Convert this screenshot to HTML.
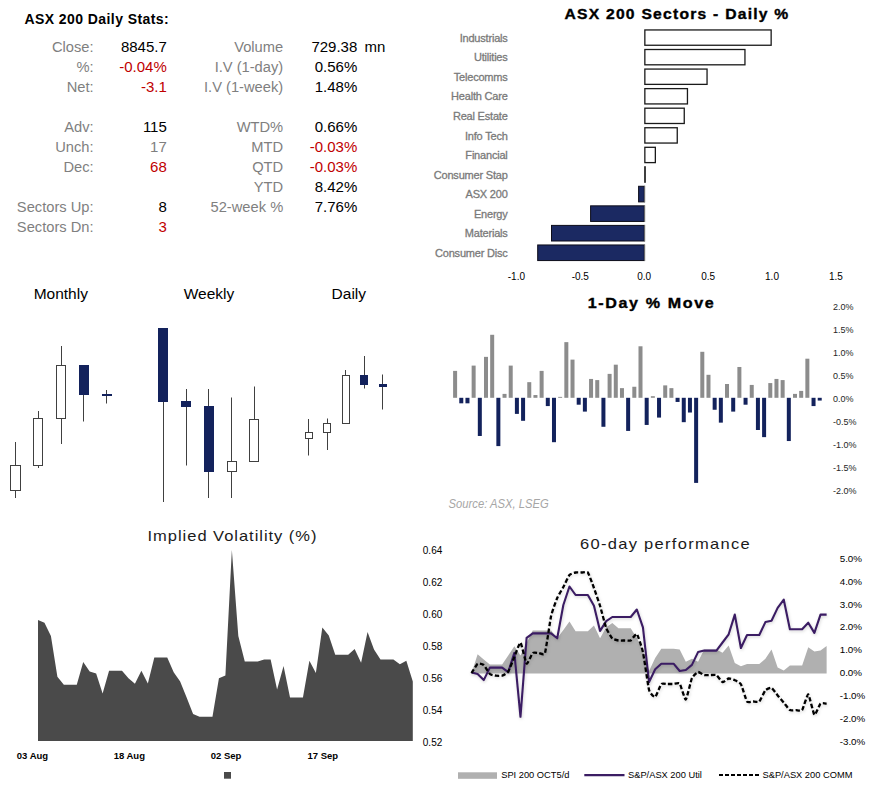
<!DOCTYPE html>
<html><head><meta charset="utf-8"><style>
html,body{margin:0;padding:0;background:#fff;width:880px;height:786px;overflow:hidden;}
svg{display:block;font-family:"Liberation Sans",sans-serif;}
</style></head><body>
<svg width="880" height="786" viewBox="0 0 880 786">
<defs><filter id="sh" x="-10%" y="-10%" width="120%" height="120%"><feDropShadow dx="0.6" dy="1.2" stdDeviation="1.6" flood-color="#000" flood-opacity="0.18"/></filter></defs>
<text x="24.5" y="24" font-size="14" fill="#000" text-anchor="start" font-weight="bold" font-style="normal" letter-spacing="0.42" font-family="Liberation Sans">ASX 200 Daily Stats:</text>
<text x="93.6" y="52" font-size="14.7" fill="#7f7f7f" text-anchor="end" font-weight="normal" font-style="normal" letter-spacing="0" font-family="Liberation Sans">Close:</text>
<text x="166.8" y="52" font-size="15" fill="#000" text-anchor="end" font-weight="normal" font-style="normal" letter-spacing="0" font-family="Liberation Sans">8845.7</text>
<text x="283.2" y="52" font-size="14.7" fill="#7f7f7f" text-anchor="end" font-weight="normal" font-style="normal" letter-spacing="0" font-family="Liberation Sans">Volume</text>
<text x="357.3" y="52" font-size="15" fill="#000" text-anchor="end" font-weight="normal" font-style="normal" letter-spacing="0" font-family="Liberation Sans">729.38</text>
<text x="93.6" y="72" font-size="14.7" fill="#7f7f7f" text-anchor="end" font-weight="normal" font-style="normal" letter-spacing="0" font-family="Liberation Sans">%:</text>
<text x="166.8" y="72" font-size="15" fill="#c00000" text-anchor="end" font-weight="normal" font-style="normal" letter-spacing="0" font-family="Liberation Sans">-0.04%</text>
<text x="283.2" y="72" font-size="14.7" fill="#7f7f7f" text-anchor="end" font-weight="normal" font-style="normal" letter-spacing="0" font-family="Liberation Sans">I.V (1-day)</text>
<text x="357.3" y="72" font-size="15" fill="#000" text-anchor="end" font-weight="normal" font-style="normal" letter-spacing="0" font-family="Liberation Sans">0.56%</text>
<text x="93.6" y="92" font-size="14.7" fill="#7f7f7f" text-anchor="end" font-weight="normal" font-style="normal" letter-spacing="0" font-family="Liberation Sans">Net:</text>
<text x="166.8" y="92" font-size="15" fill="#c00000" text-anchor="end" font-weight="normal" font-style="normal" letter-spacing="0" font-family="Liberation Sans">-3.1</text>
<text x="283.2" y="92" font-size="14.7" fill="#7f7f7f" text-anchor="end" font-weight="normal" font-style="normal" letter-spacing="0" font-family="Liberation Sans">I.V (1-week)</text>
<text x="357.3" y="92" font-size="15" fill="#000" text-anchor="end" font-weight="normal" font-style="normal" letter-spacing="0" font-family="Liberation Sans">1.48%</text>
<text x="93.6" y="132" font-size="14.7" fill="#7f7f7f" text-anchor="end" font-weight="normal" font-style="normal" letter-spacing="0" font-family="Liberation Sans">Adv:</text>
<text x="166.8" y="132" font-size="15" fill="#000" text-anchor="end" font-weight="normal" font-style="normal" letter-spacing="0" font-family="Liberation Sans">115</text>
<text x="283.2" y="132" font-size="14.7" fill="#7f7f7f" text-anchor="end" font-weight="normal" font-style="normal" letter-spacing="0" font-family="Liberation Sans">WTD%</text>
<text x="357.3" y="132" font-size="15" fill="#000" text-anchor="end" font-weight="normal" font-style="normal" letter-spacing="0" font-family="Liberation Sans">0.66%</text>
<text x="93.6" y="152" font-size="14.7" fill="#7f7f7f" text-anchor="end" font-weight="normal" font-style="normal" letter-spacing="0" font-family="Liberation Sans">Unch:</text>
<text x="166.8" y="152" font-size="15" fill="#7f7f7f" text-anchor="end" font-weight="normal" font-style="normal" letter-spacing="0" font-family="Liberation Sans">17</text>
<text x="283.2" y="152" font-size="14.7" fill="#7f7f7f" text-anchor="end" font-weight="normal" font-style="normal" letter-spacing="0" font-family="Liberation Sans">MTD</text>
<text x="357.3" y="152" font-size="15" fill="#c00000" text-anchor="end" font-weight="normal" font-style="normal" letter-spacing="0" font-family="Liberation Sans">-0.03%</text>
<text x="93.6" y="172" font-size="14.7" fill="#7f7f7f" text-anchor="end" font-weight="normal" font-style="normal" letter-spacing="0" font-family="Liberation Sans">Dec:</text>
<text x="166.8" y="172" font-size="15" fill="#c00000" text-anchor="end" font-weight="normal" font-style="normal" letter-spacing="0" font-family="Liberation Sans">68</text>
<text x="283.2" y="172" font-size="14.7" fill="#7f7f7f" text-anchor="end" font-weight="normal" font-style="normal" letter-spacing="0" font-family="Liberation Sans">QTD</text>
<text x="357.3" y="172" font-size="15" fill="#c00000" text-anchor="end" font-weight="normal" font-style="normal" letter-spacing="0" font-family="Liberation Sans">-0.03%</text>
<text x="283.2" y="192" font-size="14.7" fill="#7f7f7f" text-anchor="end" font-weight="normal" font-style="normal" letter-spacing="0" font-family="Liberation Sans">YTD</text>
<text x="357.3" y="192" font-size="15" fill="#000" text-anchor="end" font-weight="normal" font-style="normal" letter-spacing="0" font-family="Liberation Sans">8.42%</text>
<text x="93.6" y="212" font-size="14.7" fill="#7f7f7f" text-anchor="end" font-weight="normal" font-style="normal" letter-spacing="0" font-family="Liberation Sans">Sectors Up:</text>
<text x="166.8" y="212" font-size="15" fill="#000" text-anchor="end" font-weight="normal" font-style="normal" letter-spacing="0" font-family="Liberation Sans">8</text>
<text x="283.2" y="212" font-size="14.7" fill="#7f7f7f" text-anchor="end" font-weight="normal" font-style="normal" letter-spacing="0" font-family="Liberation Sans">52-week %</text>
<text x="357.3" y="212" font-size="15" fill="#000" text-anchor="end" font-weight="normal" font-style="normal" letter-spacing="0" font-family="Liberation Sans">7.76%</text>
<text x="93.6" y="232" font-size="14.7" fill="#7f7f7f" text-anchor="end" font-weight="normal" font-style="normal" letter-spacing="0" font-family="Liberation Sans">Sectors Dn:</text>
<text x="166.8" y="232" font-size="15" fill="#c00000" text-anchor="end" font-weight="normal" font-style="normal" letter-spacing="0" font-family="Liberation Sans">3</text>
<text x="364.5" y="52" font-size="15" fill="#000" text-anchor="start" font-weight="normal" font-style="normal" letter-spacing="0" font-family="Liberation Sans">mn</text>
<text transform="translate(677,18.8) scale(1.12,1)" x="0" y="0" font-size="14" fill="#000" text-anchor="middle" font-weight="bold" letter-spacing="1.1" stroke="#000" stroke-width="0.35">ASX 200 Sectors - Daily %</text>
<text stroke="#7a7a7a" stroke-width="0.3" x="507.6" y="41.8" font-size="11" fill="#7a7a7a" text-anchor="end" font-weight="normal" font-style="normal" letter-spacing="-0.2" font-family="Liberation Sans">Industrials</text>
<rect x="644.85" y="29.95" width="126.29999999999991" height="15.3" fill="#fff" stroke="#1a1a1a" stroke-width="1.3"/>
<text stroke="#7a7a7a" stroke-width="0.3" x="507.6" y="61.36" font-size="11" fill="#7a7a7a" text-anchor="end" font-weight="normal" font-style="normal" letter-spacing="-0.2" font-family="Liberation Sans">Utilities</text>
<rect x="644.85" y="49.51" width="100.09999999999998" height="15.3" fill="#fff" stroke="#1a1a1a" stroke-width="1.3"/>
<text stroke="#7a7a7a" stroke-width="0.3" x="507.6" y="80.92" font-size="11" fill="#7a7a7a" text-anchor="end" font-weight="normal" font-style="normal" letter-spacing="-0.2" font-family="Liberation Sans">Telecomms</text>
<rect x="644.85" y="69.07000000000001" width="62.2" height="15.3" fill="#fff" stroke="#1a1a1a" stroke-width="1.3"/>
<text stroke="#7a7a7a" stroke-width="0.3" x="507.6" y="100.47999999999999" font-size="11" fill="#7a7a7a" text-anchor="end" font-weight="normal" font-style="normal" letter-spacing="-0.2" font-family="Liberation Sans">Health Care</text>
<rect x="644.85" y="88.63" width="42.59999999999998" height="15.3" fill="#fff" stroke="#1a1a1a" stroke-width="1.3"/>
<text stroke="#7a7a7a" stroke-width="0.3" x="507.6" y="120.03999999999999" font-size="11" fill="#7a7a7a" text-anchor="end" font-weight="normal" font-style="normal" letter-spacing="-0.2" font-family="Liberation Sans">Real Estate</text>
<rect x="644.85" y="108.19" width="39.399999999999935" height="15.3" fill="#fff" stroke="#1a1a1a" stroke-width="1.3"/>
<text stroke="#7a7a7a" stroke-width="0.3" x="507.6" y="139.6" font-size="11" fill="#7a7a7a" text-anchor="end" font-weight="normal" font-style="normal" letter-spacing="-0.2" font-family="Liberation Sans">Info Tech</text>
<rect x="644.85" y="127.75" width="32.399999999999935" height="15.3" fill="#fff" stroke="#1a1a1a" stroke-width="1.3"/>
<text stroke="#7a7a7a" stroke-width="0.3" x="507.6" y="159.16" font-size="11" fill="#7a7a7a" text-anchor="end" font-weight="normal" font-style="normal" letter-spacing="-0.2" font-family="Liberation Sans">Financial</text>
<rect x="644.85" y="147.31" width="10.499999999999954" height="15.3" fill="#fff" stroke="#1a1a1a" stroke-width="1.3"/>
<text stroke="#7a7a7a" stroke-width="0.3" x="507.6" y="178.72" font-size="11" fill="#7a7a7a" text-anchor="end" font-weight="normal" font-style="normal" letter-spacing="-0.2" font-family="Liberation Sans">Consumer Stap</text>
<rect x="644.2" y="166.22" width="1.6" height="16.6" fill="#111"/>
<text stroke="#7a7a7a" stroke-width="0.3" x="507.6" y="198.28" font-size="11" fill="#7a7a7a" text-anchor="end" font-weight="normal" font-style="normal" letter-spacing="-0.2" font-family="Liberation Sans">ASX 200</text>
<rect x="638.6" y="186.28" width="5.7000000000000455" height="15.600000000000001" fill="#1b2962" stroke="#0d0d1a" stroke-width="1"/>
<rect x="644.2" y="185.78" width="1" height="16.6" fill="#777"/>
<text stroke="#7a7a7a" stroke-width="0.3" x="507.6" y="217.84" font-size="11" fill="#7a7a7a" text-anchor="end" font-weight="normal" font-style="normal" letter-spacing="-0.2" font-family="Liberation Sans">Energy</text>
<rect x="590.6" y="205.84" width="53.700000000000045" height="15.600000000000001" fill="#1b2962" stroke="#0d0d1a" stroke-width="1"/>
<rect x="644.2" y="205.34" width="1" height="16.6" fill="#777"/>
<text stroke="#7a7a7a" stroke-width="0.3" x="507.6" y="237.4" font-size="11" fill="#7a7a7a" text-anchor="end" font-weight="normal" font-style="normal" letter-spacing="-0.2" font-family="Liberation Sans">Materials</text>
<rect x="551.5" y="225.4" width="92.80000000000007" height="15.600000000000001" fill="#1b2962" stroke="#0d0d1a" stroke-width="1"/>
<rect x="644.2" y="224.9" width="1" height="16.6" fill="#777"/>
<text stroke="#7a7a7a" stroke-width="0.3" x="507.6" y="256.96000000000004" font-size="11" fill="#7a7a7a" text-anchor="end" font-weight="normal" font-style="normal" letter-spacing="-0.2" font-family="Liberation Sans">Consumer Disc</text>
<rect x="537.7" y="244.96" width="106.60000000000002" height="15.600000000000001" fill="#1b2962" stroke="#0d0d1a" stroke-width="1"/>
<rect x="644.2" y="244.46" width="1" height="16.6" fill="#777"/>
<text x="516.4000000000001" y="279.5" font-size="10" fill="#000" text-anchor="middle" font-weight="normal" font-style="normal" letter-spacing="0" font-family="Liberation Sans">-1.0</text>
<text x="580.3000000000001" y="279.5" font-size="10" fill="#000" text-anchor="middle" font-weight="normal" font-style="normal" letter-spacing="0" font-family="Liberation Sans">-0.5</text>
<text x="644.2" y="279.5" font-size="10" fill="#000" text-anchor="middle" font-weight="normal" font-style="normal" letter-spacing="0" font-family="Liberation Sans">0.0</text>
<text x="708.1" y="279.5" font-size="10" fill="#000" text-anchor="middle" font-weight="normal" font-style="normal" letter-spacing="0" font-family="Liberation Sans">0.5</text>
<text x="772.0" y="279.5" font-size="10" fill="#000" text-anchor="middle" font-weight="normal" font-style="normal" letter-spacing="0" font-family="Liberation Sans">1.0</text>
<text x="835.9000000000001" y="279.5" font-size="10" fill="#000" text-anchor="middle" font-weight="normal" font-style="normal" letter-spacing="0" font-family="Liberation Sans">1.5</text>
<text x="60.8" y="299.4" font-size="15.5" fill="#000" text-anchor="middle" font-weight="normal" font-style="normal" letter-spacing="0" font-family="Liberation Sans">Monthly</text>
<text x="209" y="299.4" font-size="15.5" fill="#000" text-anchor="middle" font-weight="normal" font-style="normal" letter-spacing="0" font-family="Liberation Sans">Weekly</text>
<text x="348.8" y="299.4" font-size="15.5" fill="#000" text-anchor="middle" font-weight="normal" font-style="normal" letter-spacing="0" font-family="Liberation Sans">Daily</text>
<rect x="15" y="442" width="1" height="56" fill="#404040"/>
<rect x="10.5" y="465.5" width="10" height="25" fill="#fff" stroke="#404040" stroke-width="1"/>
<rect x="38" y="411" width="1" height="57" fill="#404040"/>
<rect x="33.5" y="418.5" width="9" height="47" fill="#fff" stroke="#404040" stroke-width="1"/>
<rect x="61" y="346" width="1" height="98" fill="#404040"/>
<rect x="56.5" y="365.5" width="9" height="53" fill="#fff" stroke="#404040" stroke-width="1"/>
<rect x="83" y="390" width="1" height="31.5" fill="#404040"/>
<rect x="79" y="365" width="10" height="30" fill="#13225c"/>
<rect x="106" y="390" width="1" height="13.5" fill="#404040"/>
<rect x="102" y="394" width="10" height="2" fill="#13225c"/>
<rect x="163" y="400" width="1" height="102" fill="#404040"/>
<rect x="158" y="328" width="10" height="74" fill="#13225c"/>
<rect x="186" y="389" width="1" height="76.5" fill="#404040"/>
<rect x="181" y="401" width="10" height="6" fill="#13225c"/>
<rect x="208" y="389" width="1" height="109" fill="#404040"/>
<rect x="204" y="406" width="10" height="66" fill="#13225c"/>
<rect x="231" y="397.5" width="1" height="100.5" fill="#404040"/>
<rect x="227.5" y="461.5" width="9" height="10" fill="#fff" stroke="#404040" stroke-width="1"/>
<rect x="254" y="386.5" width="1" height="33.5" fill="#404040"/>
<rect x="249.5" y="419.5" width="9" height="42" fill="#fff" stroke="#404040" stroke-width="1"/>
<rect x="308" y="419" width="1" height="36.5" fill="#404040"/>
<rect x="305.5" y="432.5" width="7" height="6" fill="#fff" stroke="#404040" stroke-width="1"/>
<rect x="327" y="418.5" width="1" height="31.5" fill="#404040"/>
<rect x="323.5" y="423.5" width="7" height="9" fill="#fff" stroke="#404040" stroke-width="1"/>
<rect x="345" y="370" width="1" height="6" fill="#404040"/>
<rect x="342.5" y="375.5" width="7" height="48" fill="#fff" stroke="#404040" stroke-width="1"/>
<rect x="364" y="356" width="1" height="32.5" fill="#404040"/>
<rect x="360" y="375" width="8" height="10" fill="#13225c"/>
<rect x="382" y="374.5" width="1" height="35.0" fill="#404040"/>
<rect x="379" y="384" width="8" height="3" fill="#13225c"/>
<text transform="translate(651.5,308) scale(1.15,1)" x="0" y="0" font-size="14" fill="#000" text-anchor="middle" font-weight="bold" letter-spacing="1.4" stroke="#000" stroke-width="0.35">1-Day % Move</text>
<rect x="453.10" y="370.89" width="4" height="26.91" fill="#8c8c8c"/>
<rect x="459.28" y="397.80" width="4" height="5.52" fill="#13225c"/>
<rect x="465.46" y="397.80" width="4" height="5.52" fill="#13225c"/>
<rect x="471.64" y="365.60" width="4" height="32.20" fill="#8c8c8c"/>
<rect x="477.82" y="397.80" width="4" height="38.18" fill="#13225c"/>
<rect x="484.00" y="356.86" width="4" height="40.94" fill="#8c8c8c"/>
<rect x="490.18" y="334.78" width="4" height="63.02" fill="#8c8c8c"/>
<rect x="496.36" y="397.80" width="4" height="48.30" fill="#13225c"/>
<rect x="502.54" y="393.89" width="4" height="3.91" fill="#8c8c8c"/>
<rect x="508.72" y="365.60" width="4" height="32.20" fill="#8c8c8c"/>
<rect x="514.90" y="397.80" width="4" height="16.10" fill="#13225c"/>
<rect x="521.08" y="397.80" width="4" height="23.00" fill="#13225c"/>
<rect x="527.26" y="382.16" width="4" height="15.64" fill="#8c8c8c"/>
<rect x="533.44" y="395.04" width="4" height="2.76" fill="#8c8c8c"/>
<rect x="539.62" y="370.89" width="4" height="26.91" fill="#8c8c8c"/>
<rect x="545.80" y="397.80" width="4" height="8.28" fill="#13225c"/>
<rect x="551.98" y="397.80" width="4" height="44.39" fill="#13225c"/>
<rect x="558.16" y="396.88" width="4" height="0.92" fill="#8c8c8c"/>
<rect x="564.34" y="342.14" width="4" height="55.66" fill="#8c8c8c"/>
<rect x="570.52" y="359.62" width="4" height="38.18" fill="#8c8c8c"/>
<rect x="576.70" y="397.80" width="4" height="6.90" fill="#13225c"/>
<rect x="582.88" y="397.80" width="4" height="13.80" fill="#13225c"/>
<rect x="589.06" y="378.94" width="4" height="18.86" fill="#8c8c8c"/>
<rect x="595.24" y="380.09" width="4" height="17.71" fill="#8c8c8c"/>
<rect x="601.42" y="397.80" width="4" height="28.98" fill="#13225c"/>
<rect x="607.60" y="373.88" width="4" height="23.92" fill="#8c8c8c"/>
<rect x="613.78" y="364.68" width="4" height="33.12" fill="#8c8c8c"/>
<rect x="619.96" y="388.14" width="4" height="9.66" fill="#8c8c8c"/>
<rect x="626.14" y="397.80" width="4" height="33.12" fill="#13225c"/>
<rect x="632.32" y="386.76" width="4" height="11.04" fill="#8c8c8c"/>
<rect x="638.50" y="346.28" width="4" height="51.52" fill="#8c8c8c"/>
<rect x="644.68" y="397.80" width="4" height="27.14" fill="#13225c"/>
<rect x="650.86" y="396.19" width="4" height="1.61" fill="#8c8c8c"/>
<rect x="657.04" y="397.80" width="4" height="19.78" fill="#13225c"/>
<rect x="663.22" y="385.38" width="4" height="12.42" fill="#8c8c8c"/>
<rect x="669.40" y="388.14" width="4" height="9.66" fill="#8c8c8c"/>
<rect x="675.58" y="397.80" width="4" height="4.14" fill="#13225c"/>
<rect x="681.76" y="397.80" width="4" height="24.38" fill="#13225c"/>
<rect x="687.94" y="397.80" width="4" height="14.72" fill="#13225c"/>
<rect x="694.12" y="397.80" width="4" height="85.10" fill="#13225c"/>
<rect x="700.30" y="351.80" width="4" height="46.00" fill="#8c8c8c"/>
<rect x="706.48" y="374.80" width="4" height="23.00" fill="#8c8c8c"/>
<rect x="712.66" y="397.80" width="4" height="11.96" fill="#13225c"/>
<rect x="718.84" y="397.80" width="4" height="24.84" fill="#13225c"/>
<rect x="725.02" y="384.00" width="4" height="13.80" fill="#8c8c8c"/>
<rect x="731.20" y="397.80" width="4" height="13.80" fill="#13225c"/>
<rect x="737.38" y="366.98" width="4" height="30.82" fill="#8c8c8c"/>
<rect x="743.56" y="397.80" width="4" height="6.90" fill="#13225c"/>
<rect x="749.74" y="384.92" width="4" height="12.88" fill="#8c8c8c"/>
<rect x="755.92" y="397.80" width="4" height="32.20" fill="#13225c"/>
<rect x="762.10" y="397.80" width="4" height="39.33" fill="#13225c"/>
<rect x="768.28" y="383.08" width="4" height="14.72" fill="#8c8c8c"/>
<rect x="774.46" y="378.94" width="4" height="18.86" fill="#8c8c8c"/>
<rect x="780.64" y="380.09" width="4" height="17.71" fill="#8c8c8c"/>
<rect x="786.82" y="397.80" width="4" height="43.24" fill="#13225c"/>
<rect x="793.00" y="393.89" width="4" height="3.91" fill="#8c8c8c"/>
<rect x="799.18" y="390.90" width="4" height="6.90" fill="#8c8c8c"/>
<rect x="805.36" y="358.70" width="4" height="39.10" fill="#8c8c8c"/>
<rect x="811.54" y="397.80" width="4" height="8.28" fill="#13225c"/>
<rect x="817.72" y="397.80" width="4" height="2.76" fill="#13225c"/>
<text transform="translate(833,309.6) scale(0.92,1)" x="0" y="0" font-size="9.8" fill="#262626" text-anchor="start" font-weight="normal" letter-spacing="0" >2.0%</text>
<text transform="translate(833,332.65000000000003) scale(0.92,1)" x="0" y="0" font-size="9.8" fill="#262626" text-anchor="start" font-weight="normal" letter-spacing="0" >1.5%</text>
<text transform="translate(833,355.70000000000005) scale(0.92,1)" x="0" y="0" font-size="9.8" fill="#262626" text-anchor="start" font-weight="normal" letter-spacing="0" >1.0%</text>
<text transform="translate(833,378.75) scale(0.92,1)" x="0" y="0" font-size="9.8" fill="#262626" text-anchor="start" font-weight="normal" letter-spacing="0" >0.5%</text>
<text transform="translate(833,401.8) scale(0.92,1)" x="0" y="0" font-size="9.8" fill="#262626" text-anchor="start" font-weight="normal" letter-spacing="0" >0.0%</text>
<text transform="translate(833,424.85) scale(0.92,1)" x="0" y="0" font-size="9.8" fill="#262626" text-anchor="start" font-weight="normal" letter-spacing="0" >-0.5%</text>
<text transform="translate(833,447.90000000000003) scale(0.92,1)" x="0" y="0" font-size="9.8" fill="#262626" text-anchor="start" font-weight="normal" letter-spacing="0" >-1.0%</text>
<text transform="translate(833,470.95000000000005) scale(0.92,1)" x="0" y="0" font-size="9.8" fill="#262626" text-anchor="start" font-weight="normal" letter-spacing="0" >-1.5%</text>
<text transform="translate(833,494.0) scale(0.92,1)" x="0" y="0" font-size="9.8" fill="#262626" text-anchor="start" font-weight="normal" letter-spacing="0" >-2.0%</text>
<text transform="translate(448.6,508) scale(0.9,1)" x="0" y="0" font-size="12.5" fill="#a6a6a6" text-anchor="start" font-weight="normal" letter-spacing="0" font-style="italic">Source: ASX, LSEG</text>
<text transform="translate(232.5,541) scale(1.18,1)" x="0" y="0" font-size="14" fill="#1a1a1a" text-anchor="middle" font-weight="normal" letter-spacing="0.82" >Implied Volatility (%)</text>
<path d="M38,741 L38.00,620.10 L44.46,622.80 L50.92,636.10 L57.39,676.70 L63.85,684.70 L70.31,684.70 L76.77,684.70 L83.23,662.00 L89.70,671.40 L96.16,673.50 L102.62,693.50 L109.08,670.80 L115.54,670.80 L122.01,670.80 L128.47,678.30 L134.93,683.70 L141.39,670.80 L147.85,683.40 L154.32,657.50 L160.78,657.50 L167.24,657.50 L173.70,672.20 L180.16,681.50 L186.63,697.50 L193.09,714.10 L199.55,716.80 L206.01,716.80 L212.47,716.80 L218.94,678.30 L225.40,675.60 L231.86,550.10 L238.32,636.10 L244.78,661.50 L251.25,661.50 L257.71,661.50 L264.17,659.40 L270.63,659.40 L277.09,689.50 L283.56,666.00 L290.02,697.50 L296.48,697.50 L302.94,697.50 L309.40,660.70 L315.87,673.00 L322.33,627.60 L328.79,635.60 L335.25,654.80 L341.71,654.80 L348.18,654.80 L354.64,648.90 L361.10,662.80 L367.56,632.10 L374.02,649.50 L380.49,659.40 L386.95,659.40 L393.41,659.40 L399.87,664.20 L406.33,660.70 L412.80,681.50 L412.80,741 Z" fill="#4a4a4a"/>
<text x="32.5" y="759" font-size="9.5" fill="#000" text-anchor="middle" font-weight="bold" font-style="normal" letter-spacing="0" font-family="Liberation Sans">03 Aug</text>
<text x="129.3" y="759" font-size="9.5" fill="#000" text-anchor="middle" font-weight="bold" font-style="normal" letter-spacing="0" font-family="Liberation Sans">18 Aug</text>
<text x="226" y="759" font-size="9.5" fill="#000" text-anchor="middle" font-weight="bold" font-style="normal" letter-spacing="0" font-family="Liberation Sans">02 Sep</text>
<text x="322.8" y="759" font-size="9.5" fill="#000" text-anchor="middle" font-weight="bold" font-style="normal" letter-spacing="0" font-family="Liberation Sans">17 Sep</text>
<rect x="224" y="772" width="7" height="6.7" fill="#4a4a4a"/>
<text transform="translate(665.5,548.5) scale(1.18,1)" x="0" y="0" font-size="14" fill="#1a1a1a" text-anchor="middle" font-weight="normal" letter-spacing="1.1" >60-day performance</text>
<text x="422.8" y="553.7" font-size="10" fill="#000" text-anchor="start" font-weight="normal" font-style="normal" letter-spacing="0" font-family="Liberation Sans">0.64</text>
<text x="422.8" y="585.6700000000001" font-size="10" fill="#000" text-anchor="start" font-weight="normal" font-style="normal" letter-spacing="0" font-family="Liberation Sans">0.62</text>
<text x="422.8" y="617.6400000000001" font-size="10" fill="#000" text-anchor="start" font-weight="normal" font-style="normal" letter-spacing="0" font-family="Liberation Sans">0.60</text>
<text x="422.8" y="649.61" font-size="10" fill="#000" text-anchor="start" font-weight="normal" font-style="normal" letter-spacing="0" font-family="Liberation Sans">0.58</text>
<text x="422.8" y="681.58" font-size="10" fill="#000" text-anchor="start" font-weight="normal" font-style="normal" letter-spacing="0" font-family="Liberation Sans">0.56</text>
<text x="422.8" y="713.5500000000001" font-size="10" fill="#000" text-anchor="start" font-weight="normal" font-style="normal" letter-spacing="0" font-family="Liberation Sans">0.54</text>
<text x="422.8" y="745.52" font-size="10" fill="#000" text-anchor="start" font-weight="normal" font-style="normal" letter-spacing="0" font-family="Liberation Sans">0.52</text>
<text x="839.7" y="561.7" font-size="9.8" fill="#000" text-anchor="start" font-weight="normal" font-style="normal" letter-spacing="0" font-family="Liberation Sans">5.0%</text>
<text x="839.7" y="584.6" font-size="9.8" fill="#000" text-anchor="start" font-weight="normal" font-style="normal" letter-spacing="0" font-family="Liberation Sans">4.0%</text>
<text x="839.7" y="607.5" font-size="9.8" fill="#000" text-anchor="start" font-weight="normal" font-style="normal" letter-spacing="0" font-family="Liberation Sans">3.0%</text>
<text x="839.7" y="630.4000000000001" font-size="9.8" fill="#000" text-anchor="start" font-weight="normal" font-style="normal" letter-spacing="0" font-family="Liberation Sans">2.0%</text>
<text x="839.7" y="653.3000000000001" font-size="9.8" fill="#000" text-anchor="start" font-weight="normal" font-style="normal" letter-spacing="0" font-family="Liberation Sans">1.0%</text>
<text x="839.7" y="676.2" font-size="9.8" fill="#000" text-anchor="start" font-weight="normal" font-style="normal" letter-spacing="0" font-family="Liberation Sans">0.0%</text>
<text x="839.7" y="699.1" font-size="9.8" fill="#000" text-anchor="start" font-weight="normal" font-style="normal" letter-spacing="0" font-family="Liberation Sans">-1.0%</text>
<text x="839.7" y="722.0" font-size="9.8" fill="#000" text-anchor="start" font-weight="normal" font-style="normal" letter-spacing="0" font-family="Liberation Sans">-2.0%</text>
<text x="839.7" y="744.9000000000001" font-size="9.8" fill="#000" text-anchor="start" font-weight="normal" font-style="normal" letter-spacing="0" font-family="Liberation Sans">-3.0%</text>
<path d="M471.50,673.4 L471.50,673.40 L477.62,654.30 L483.75,659.50 L489.87,664.50 L495.99,664.50 L502.12,664.50 L508.24,655.40 L514.36,646.30 L520.48,655.60 L526.61,642.90 L532.73,630.50 L538.85,630.50 L544.98,630.50 L551.10,630.50 L557.22,638.30 L563.35,630.00 L569.47,621.40 L575.59,631.20 L581.71,631.20 L587.84,631.20 L593.96,625.50 L600.08,638.30 L606.21,627.20 L612.33,623.10 L618.45,628.20 L624.58,628.20 L630.70,628.20 L636.82,638.00 L642.94,650.00 L649.07,671.00 L655.19,658.00 L661.31,648.80 L667.44,648.80 L673.56,648.80 L679.68,649.60 L685.81,661.80 L691.93,658.80 L698.05,661.80 L704.17,649.60 L710.30,649.60 L716.42,649.60 L722.54,652.70 L728.67,645.50 L734.79,662.90 L740.91,666.30 L747.04,663.90 L753.16,663.90 L759.28,663.90 L765.40,658.80 L771.53,649.60 L777.65,667.50 L783.77,670.60 L789.90,665.50 L796.02,665.50 L802.14,665.50 L808.26,647.20 L814.39,651.60 L820.51,650.60 L826.63,645.90 L826.63,673.4 Z" fill="#b0b0b0"/>
<path d="M471.50,672.50 L477.62,673.90 L483.75,680.10 L489.87,667.60 L495.99,667.60 L502.12,667.60 L508.24,672.10 L514.36,652.90 L520.48,716.80 L526.61,637.80 L532.73,633.40 L538.85,633.40 L544.98,633.40 L551.10,633.40 L557.22,638.30 L563.35,605.00 L569.47,586.50 L575.59,595.00 L581.71,595.00 L587.84,595.00 L593.96,605.80 L600.08,630.90 L606.21,621.10 L612.33,617.00 L618.45,617.00 L624.58,617.00 L630.70,617.00 L636.82,609.50 L642.94,627.30 L649.07,682.10 L655.19,669.20 L661.31,663.70 L667.44,663.70 L673.56,663.70 L679.68,671.00 L685.81,670.00 L691.93,664.90 L698.05,652.10 L704.17,650.60 L710.30,650.60 L716.42,650.60 L722.54,642.50 L728.67,634.30 L734.79,614.60 L740.91,648.00 L747.04,635.00 L753.16,635.00 L759.28,635.00 L765.40,622.10 L771.53,620.70 L777.65,607.90 L783.77,599.70 L789.90,629.20 L796.02,629.20 L802.14,629.20 L808.26,622.70 L814.39,632.90 L820.51,614.60 L826.63,614.60" fill="none" stroke="#3b1d63" stroke-width="2.1" stroke-linejoin="round" filter="url(#sh)"/>
<path d="M471.50,673.00 C471.97,672.29 476.68,664.42 477.62,663.80 C478.56,663.18 482.80,664.22 483.75,665.00 C484.69,665.78 488.93,673.18 489.87,674.00 C490.81,674.82 495.05,675.57 495.99,675.70 C496.93,675.83 501.17,676.02 502.12,675.70 C503.06,675.38 507.30,673.04 508.24,671.60 C509.18,670.16 513.42,659.22 514.36,657.00 C515.30,654.78 519.54,642.19 520.48,642.70 C521.43,643.21 525.66,662.81 526.61,663.60 C527.55,664.39 531.79,653.82 532.73,653.00 C533.67,652.18 537.91,653.00 538.85,653.00 C539.80,653.00 544.03,655.85 544.98,653.00 C545.92,650.15 550.16,620.23 551.10,616.00 C552.04,611.77 556.28,600.23 557.22,598.00 C558.16,595.77 562.40,588.77 563.35,587.00 C564.29,585.23 568.53,576.12 569.47,575.00 C570.41,573.88 574.65,572.69 575.59,572.50 C576.53,572.31 580.77,572.50 581.71,572.50 C582.66,572.50 586.89,571.31 587.84,572.50 C588.78,573.69 593.02,585.42 593.96,588.00 C594.90,590.58 599.14,602.92 600.08,606.00 C601.02,609.08 605.26,625.50 606.21,628.00 C607.15,630.50 611.39,637.54 612.33,638.50 C613.27,639.46 617.51,640.35 618.45,640.50 C619.39,640.65 623.63,640.50 624.58,640.50 C625.52,640.50 629.76,641.00 630.70,640.50 C631.64,640.00 635.88,633.12 636.82,634.00 C637.76,634.88 642.00,647.69 642.94,652.00 C643.89,656.31 648.12,686.54 649.07,690.00 C650.01,693.46 654.25,697.46 655.19,697.00 C656.13,696.54 660.37,685.00 661.31,684.00 C662.25,683.00 666.49,684.00 667.44,684.00 C668.38,684.00 672.62,684.03 673.56,684.00 C674.50,683.97 678.74,682.41 679.68,683.60 C680.62,684.79 684.86,699.92 685.81,699.50 C686.75,699.08 690.99,680.22 691.93,678.10 C692.87,675.98 697.11,672.23 698.05,672.00 C698.99,671.77 703.23,674.86 704.17,675.10 C705.12,675.34 709.36,675.10 710.30,675.10 C711.24,675.10 715.48,674.55 716.42,675.10 C717.36,675.65 721.60,681.94 722.54,682.20 C723.49,682.46 727.72,678.65 728.67,678.50 C729.61,678.35 733.85,679.76 734.79,680.20 C735.73,680.64 739.97,682.56 740.91,684.20 C741.85,685.84 746.09,700.17 747.04,701.50 C747.98,702.83 752.22,701.50 753.16,701.50 C754.10,701.50 758.34,702.36 759.28,701.50 C760.22,700.64 764.46,691.35 765.40,690.30 C766.35,689.25 770.59,687.51 771.53,687.90 C772.47,688.29 776.71,694.27 777.65,695.40 C778.59,696.53 782.83,701.47 783.77,702.60 C784.72,703.73 788.95,709.52 789.90,710.10 C790.84,710.68 795.08,710.10 796.02,710.10 C796.96,710.10 801.20,711.31 802.14,710.10 C803.08,708.89 807.32,694.04 808.26,694.40 C809.21,694.76 813.45,714.09 814.39,714.80 C815.33,715.51 819.57,704.46 820.51,703.60 C821.45,702.74 826.16,703.60 826.63,703.60" fill="none" stroke="#000" stroke-width="2.3" stroke-dasharray="4.4,2.3" filter="url(#sh)"/>
<rect x="458" y="772.3" width="39" height="6.5" fill="#b0b0b0"/>
<text x="501.2" y="778.4" font-size="9.3" fill="#000" text-anchor="start" font-weight="normal" font-style="normal" letter-spacing="0" font-family="Liberation Sans">SPI 200 OCT5/d</text>
<line x1="584.3" y1="775.1" x2="624.5" y2="775.1" stroke="#3b1d63" stroke-width="2.3"/>
<text x="628" y="778.4" font-size="9.3" fill="#000" text-anchor="start" font-weight="normal" font-style="normal" letter-spacing="0" font-family="Liberation Sans">S&amp;P/ASX 200 Util</text>
<line x1="719" y1="775.1" x2="759" y2="775.1" stroke="#000" stroke-width="2" stroke-dasharray="4,2"/>
<text x="762.5" y="778.4" font-size="9.3" fill="#000" text-anchor="start" font-weight="normal" font-style="normal" letter-spacing="0" font-family="Liberation Sans">S&amp;P/ASX 200 COMM</text>
</svg>
</body></html>
